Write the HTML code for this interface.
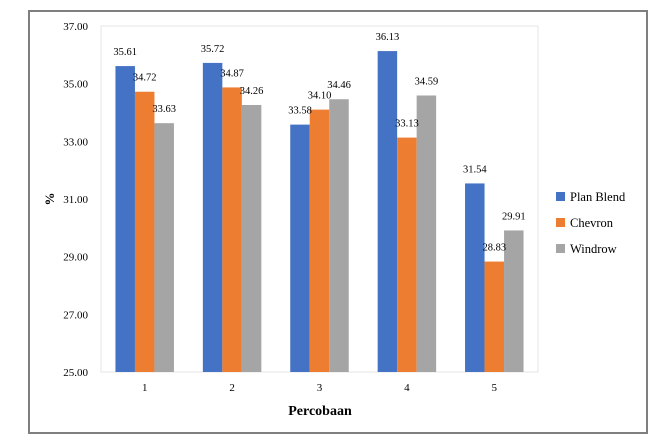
<!DOCTYPE html>
<html><head><meta charset="utf-8"><style>
body{margin:0;background:#fff;}
svg{display:block;font-family:"Liberation Serif",serif;}
</style></head><body>
<svg id="chart" width="657" height="448">
<rect x="29" y="11" width="618" height="422" fill="#fff" stroke="#7f7f7f" stroke-width="2"/>
<rect x="101" y="26" width="437" height="346" fill="none" stroke="#e6e6e6" stroke-width="1"/>
<g id="yaxis"></g>
<g id="xaxis"></g>
<g id="bars"></g>
<g id="labels"></g>
<text x="54" y="199" font-size="13" font-weight="bold" text-anchor="middle" transform="rotate(-90 54 199)">%</text>
<text x="320" y="415" font-size="14" font-weight="bold" text-anchor="middle">Percobaan</text>
<g id="legend"></g>
</svg>
<script>
const categories = ["1","2","3","4","5"];
const seriesNames = ["Plan Blend","Chevron","Windrow"];
const planBlend = [35.61,35.72,33.58,36.13,31.54];
const chevron = [34.72,34.87,34.10,33.13,28.83];
const windrow = [33.63,34.26,34.46,34.59,29.91];
const yTicks = [25,27,29,31,33,35,37];
const colors = ["#4472c4","#ed7d31","#a5a5a5"];
const series = [planBlend, chevron, windrow];
const NS="http://www.w3.org/2000/svg";
const X0=101,X1=538,Y0=372,Y1=26,YMIN=25,YMAX=37;
const y = v => Y0-(v-YMIN)/(YMAX-YMIN)*(Y0-Y1);
const bandW=(X1-X0)/categories.length;
const barW=19.5;
function mk(tag,attrs,parent){const e=document.createElementNS(NS,tag);for(const k in attrs)e.setAttribute(k,attrs[k]);parent.appendChild(e);return e;}
const yaxis=document.getElementById('yaxis');
yTicks.forEach(t=>{
  const e=mk('text',{x:88,y:y(t)+4,'font-size':11,'text-anchor':'end'},yaxis);
  
  
  e.textContent=t.toFixed(2);
});
const xaxis=document.getElementById('xaxis');
categories.forEach((c,i)=>{
  const e=mk('text',{x:X0+bandW*(i+0.5),y:391,'font-size':11,'text-anchor':'middle'},xaxis);
  
  
  e.textContent=c;
});
const bars=document.getElementById('bars'),labels=document.getElementById('labels');
categories.forEach((c,i)=>{
  const cx=X0+bandW*(i+0.5);
  series.forEach((s,j)=>{
    const bx=cx-1.5*barW+j*barW;
    const r=mk('rect',{x:bx,y:y(s[i]),width:barW,height:Y0-y(s[i]),fill:colors[j]},bars);
    
    
    const t=mk('text',{x:bx+barW/2,y:y(s[i])-11,'font-size':10.5,'text-anchor':'middle'},labels);
    
    
    t.textContent=s[i].toFixed(2);
  });
});
const legend=document.getElementById('legend');
seriesNames.forEach((n,j)=>{
  const g=mk('g',{},legend);
  
  
  mk('rect',{x:556,y:192+j*26,width:9,height:9,fill:colors[j]},g);
  const t=mk('text',{x:570,y:201+j*26,'font-size':12.5},g);
  t.textContent=n;
});
</script>
</body></html>
